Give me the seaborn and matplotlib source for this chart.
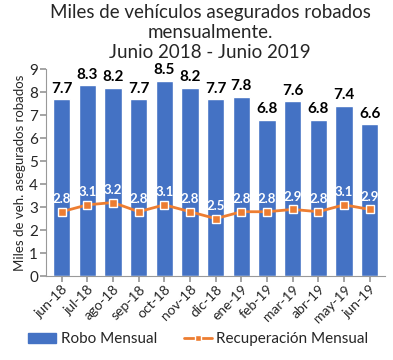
import matplotlib
matplotlib.use("Agg")
import matplotlib.pyplot as plt
import seaborn as sns
import pandas as pd
import numpy as np
from matplotlib.lines import Line2D
from matplotlib.patches import Patch

months = ["jun-18", "jul-18", "ago-18", "sep-18", "oct-18", "nov-18", "dic-18",
          "ene-19", "feb-19", "mar-19", "abr-19", "may-19", "jun-19"]
robo = [7.7, 8.3, 8.2, 7.7, 8.5, 8.2, 7.7, 7.8, 6.8, 7.6, 6.8, 7.4, 6.6]
recuperacion = [2.8, 3.1, 3.2, 2.8, 3.1, 2.8, 2.5, 2.8, 2.8, 2.9, 2.8, 3.1, 2.9]

sns.set_theme(style="white")
plt.rcParams['font.family'] = ['Lato', 'DejaVu Sans']

df = pd.DataFrame({"mes": months, "robo": robo, "rec": recuperacion})

fig = plt.figure(figsize=(3.93, 3.6), dpi=100)
ax = fig.add_axes([0.118, 0.233, 0.862, 0.575])

blue = "#4472C4"
orange = "#ED7D31"

sns.barplot(data=df, x="mes", y="robo", color=blue, saturation=1, width=0.68, ax=ax)
x = np.arange(len(months))
ax.plot(x, recuperacion, color=orange, lw=2, marker="s", markersize=6,
        markerfacecolor=orange, markeredgecolor="white", markeredgewidth=1, zorder=3)

for xi, v in zip(x, robo):
    ax.text(xi, v + 0.15, f"{v:.1f}", ha="center", va="bottom", fontsize=11,
            fontweight="bold", color="black")
for xi, v in zip(x, recuperacion):
    ax.text(xi, v + 0.3, f"{v:.1f}", ha="center", va="bottom", fontsize=9.5,
            fontweight="bold", color="white")

ax.set_ylim(0, 9)
ax.set_xlim(-0.6, 12.6)
ax.set_yticks(range(0, 10))
ax.tick_params(axis="y", labelsize=11, length=4, color="#999999", direction="out", left=True, pad=2)
ax.tick_params(axis="x", labelsize=10, length=4, color="#999999", direction="out", bottom=True, pad=1)
ax.set_xticks(x)
ax.set_xticklabels(months, rotation=45, ha="right", rotation_mode="anchor")
ax.set_xlabel("")
ax.set_ylabel("Miles de veh. asegurados robados", fontsize=9.5, labelpad=2)
for s in ["top", "right"]:
    ax.spines[s].set_visible(False)
for s in ["left", "bottom"]:
    ax.spines[s].set_color("#999999")
    ax.spines[s].set_linewidth(0.8)

fig.text(0.535, 0.99, "Miles de vehículos asegurados robados\nmensualmente.\nJunio 2018 - Junio 2019",
         ha="center", va="top", fontsize=13.5, linespacing=1.22)

handles = [Patch(facecolor=blue, edgecolor=blue),
           Line2D([0], [0], color=orange, lw=2, marker="s", markersize=4,
                  markerfacecolor=orange, markeredgecolor="white")]
fig.legend(handles, ["Robo Mensual", "Recuperación Mensual"], loc="lower center",
           bbox_to_anchor=(0.505, 0.0), ncol=2, frameon=False, fontsize=11,
           handlelength=1.8, columnspacing=1.8, handletextpad=0.3)

fig.savefig("out.png", dpi=100)
